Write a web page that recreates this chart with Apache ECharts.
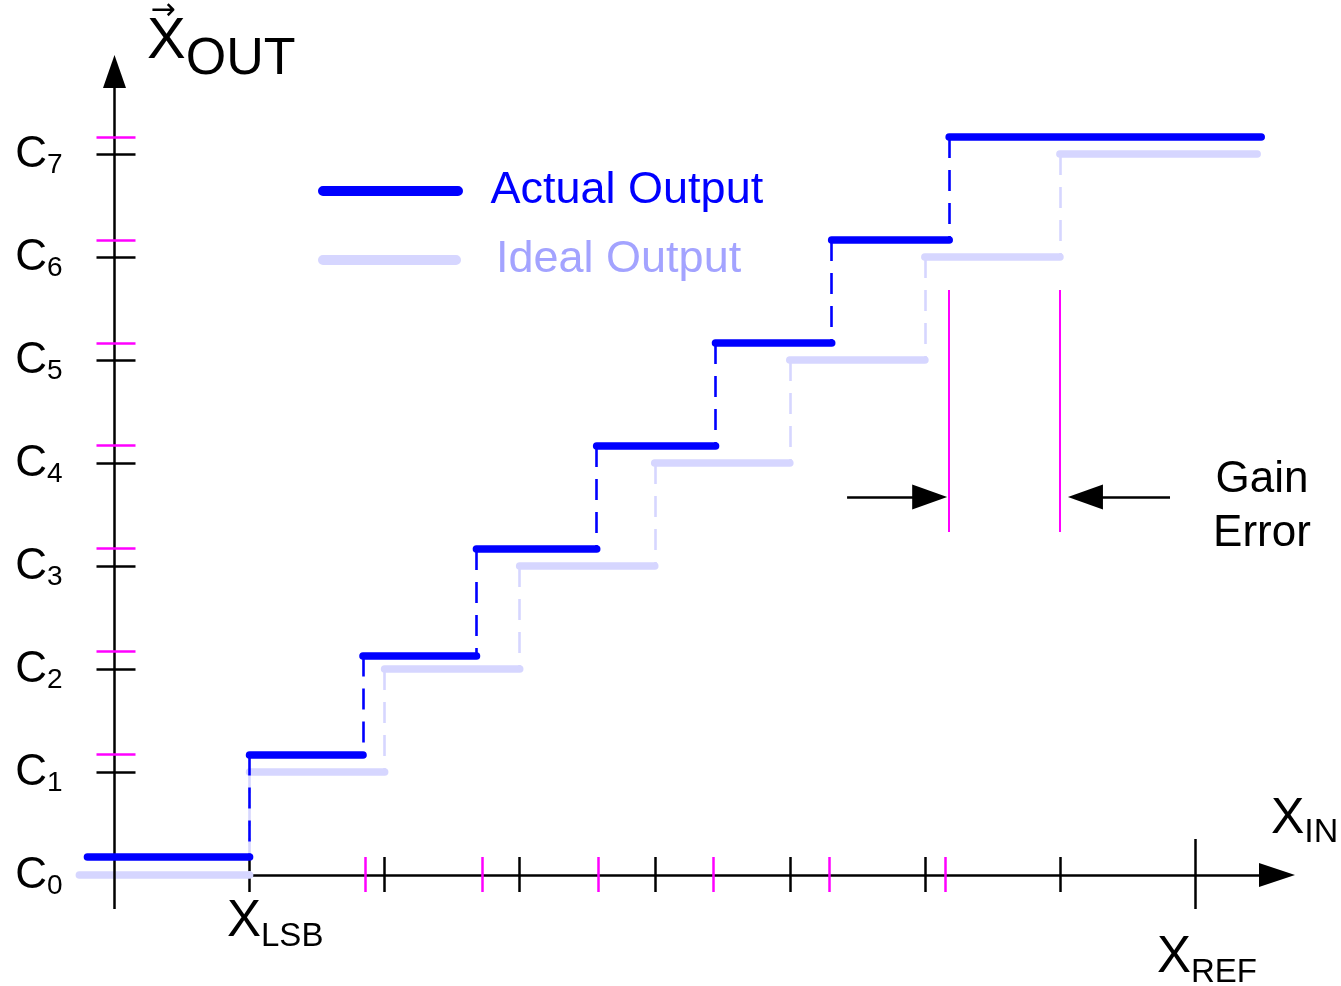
<!DOCTYPE html>
<html><head><meta charset="utf-8">
<script src="https://cdn.jsdelivr.net/npm/echarts@6/dist/echarts.min.js"></script>
<style>html,body{margin:0;padding:0;background:#fff}#c{width:1341px;height:986px}</style>
</head><body><div id="c"></div>
<script>
// ---------- data ----------
const codeSubscripts = ['0','1','2','3','4','5','6','7'];          // C0..C7 tick labels
const idealLevels = [0,1,2,3,4,5,6,7];
const idealTransitions = [1,2,3,4,5,6,7];
const idealRange = [-0.26, 8.46];
const actualLevels = [0.175,1.17,2.13,3.165,4.165,5.165,6.165,7.165];
const actualTransitions = [1.0,1.84,2.68,3.57,4.45,5.31,6.18];
const actualRange = [-0.2, 8.49];
const xTicksIdeal = [1,2,3,4,5,6,7];
const xRef = 8;
const xTicksActual = [1.86,2.72,3.58,4.43,5.29,6.15];
const yTicksIdeal = [1,2,3,4,5,6,7];
const yTicksActual = [1.17,2.17,3.17,4.17,5.16,6.16,7.16];
const gainErrorX = [6.18, 7.0];
const gainErrorSpan = [3.33, 5.68];
const gainArrowY = 3.67;
const gainArrowStart = [5.424, 7.815];

// ---------- layout ----------
const GRID = {left:114.5, top:154, width:1080.5, height:721};
const PX_X = GRID.width/8, PX_Y = GRID.height/7;
const FONT = '"Liberation Sans", Arial, sans-serif';
const BLUE = '#0000ff', LIGHT = '#d6d6ff', LIGHT_TXT = '#a3a3ff', MAG = '#ff00ff';
const STEP_W = 7.6;

function stepSegments(levels, trans, range){
  return levels.map((lv,i)=>[[i===0?range[0]:trans[i-1], lv],[i===levels.length-1?range[1]:trans[i], lv]]);
}
function risers(levels, trans){ return trans.map((t,i)=>[[t,levels[i+1]],[t,levels[i]]]); }
function vTicks(xs, halfUpPx, halfDownPx){ return xs.map(x=>[[x,-halfDownPx/PX_Y],[x,halfUpPx/PX_Y]]); }
function hTicks(ys, leftPx, rightPx){ return ys.map(y=>[[-leftPx/PX_X,y],[rightPx/PX_X,y]]); }

function lines(name, segs, color, width, z, opt){
  opt = opt || {};
  return Object.assign({
    type:'lines', name:name, coordinateSystem:'cartesian2d', clip:false, silent:true,
    animation:false, polyline:false, z:z,
    lineStyle:{color:color, width:width, opacity:1, type:opt.dash||'solid', cap:opt.cap||'butt'},
    data: segs.map(c=>({coords:c}))
  }, opt.extra||{});
}
function arrowSeries(name, from, tip, headW, headL, z){
  const dxp = (tip[0]-from[0])*PX_X, dyp = (tip[1]-from[1])*PX_Y;
  const len = Math.hypot(dxp, dyp);
  const k = (len - headL/2)/len;
  const end = [from[0]+(tip[0]-from[0])*k, from[1]+(tip[1]-from[1])*k];
  return lines(name, [[from, end]], '#000', 2.5, z,
    {extra:{symbol:['none','triangle'], symbolSize:[0,[headW,headL]]}});
}

const series = [
  arrowSeries('x-axis', [0,0], [(1295-GRID.left)/PX_X, 0], 24, 36, 2),
  lines('x ticks', vTicks(xTicksIdeal, 18, 17), '#000', 2.5, 2),
  lines('x ref tick', vTicks([xRef], 36, 34), '#000', 2.5, 2),
  lines('x ticks actual', vTicks(xTicksActual, 18, 17), MAG, 2.5, 2),
  lines('Ideal Output', stepSegments(idealLevels, idealTransitions, idealRange), LIGHT, STEP_W, 3, {cap:'round'}),
  lines('Ideal risers', risers(idealLevels, idealTransitions), LIGHT, 2.6, 3, {dash:[21,12]}),
  arrowSeries('y-axis', [0,-34/PX_Y], [0,(875-55)/PX_Y], 23, 33, 4),
  lines('y ticks', hTicks(yTicksIdeal, 18, 21), '#000', 2.5, 4),
  lines('y ticks actual', hTicks(yTicksActual, 18, 21), MAG, 2.5, 4),
  lines('Actual risers', risers(actualLevels, actualTransitions), BLUE, 2.6, 5, {dash:[21,12]}),
  lines('Actual Output', stepSegments(actualLevels, actualTransitions, actualRange), BLUE, STEP_W, 5, {cap:'round'}),
  lines('gain error', gainErrorX.map(x=>[[x,gainErrorSpan[0]],[x,gainErrorSpan[1]]]), MAG, 2, 6),
  arrowSeries('gain arrow 1', [gainArrowStart[0],gainArrowY], [gainErrorX[0]-2/PX_X, gainArrowY], 25, 35, 6),
  arrowSeries('gain arrow 2', [gainArrowStart[1],gainArrowY], [gainErrorX[1]+8/PX_X, gainArrowY], 25, 35, 6)
];

const roundIcon = 'path://M4,0H139A4,4,0,0,1,139,8H4A4,4,0,0,1,4,0Z';
function subRich(F, f, lift){
  return {m:{fontSize:F, verticalAlign:'bottom', padding:[0,0,lift,0], fontFamily:FONT, fill:'#000'},
          s:{fontSize:f, verticalAlign:'bottom', fontFamily:FONT, fill:'#000'}};
}

const option = {
  backgroundColor:'#fff',
  animation:false,
  grid:{left:GRID.left, top:GRID.top, width:GRID.width, height:GRID.height, containLabel:false},
  xAxis:{type:'value', min:0, max:8, show:false},
  yAxis:{type:'value', min:0, max:7, interval:1,
    axisLine:{show:false}, axisTick:{show:false}, splitLine:{show:false},
    axisLabel:{margin:52, formatter:(v)=>'{c|C}{s|'+codeSubscripts[v]+'}',
      rich:{c:{fontSize:44, lineHeight:50, verticalAlign:'bottom', padding:[0,0,2,0], fontFamily:FONT, color:'#000'},
            s:{fontSize:28, verticalAlign:'bottom', fontFamily:FONT, color:'#000'}}}},
  legend:[
    {selectedMode:false, left:318, top:166, padding:0, itemWidth:144, itemHeight:8, icon:roundIcon,
     textStyle:{fontFamily:FONT, fontSize:45, lineHeight:50, padding:[0,0,0,23]},
     data:[{name:'Actual Output', itemStyle:{color:BLUE}, textStyle:{color:BLUE}}]},
    {selectedMode:false, left:318, top:235, padding:0, itemWidth:141, itemHeight:8, icon:roundIcon,
     textStyle:{fontFamily:FONT, fontSize:45, lineHeight:50, padding:[0,0,0,31]},
     data:[{name:'Ideal Output', itemStyle:{color:LIGHT}, textStyle:{color:LIGHT_TXT}}]}
  ],
  graphic:[
    {type:'text', x:147, y:86, silent:true, style:{text:'{m|X}{s|OUT}', align:'left', verticalAlign:'bottom',
      rich:subRich(58, 52, 15)}},
    {type:'text', x:163, y:11, silent:true, style:{text:'\u2192', align:'center', verticalAlign:'middle',
      fontSize:30, fontFamily:'"DejaVu Sans"', fill:'#000'}},
    {type:'text', x:227, y:953, silent:true, style:{text:'{m|X}{s|LSB}', align:'left', verticalAlign:'bottom',
      rich:subRich(51, 33, 5.5)}},
    {type:'text', x:1157, y:989, silent:true, style:{text:'{m|X}{s|REF}', align:'left', verticalAlign:'bottom',
      rich:subRich(51, 33, 5.5)}},
    {type:'text', x:1271, y:850, silent:true, style:{text:'{m|X}{s|IN}', align:'left', verticalAlign:'bottom',
      rich:subRich(50, 34, 5.7)}},
    {type:'text', x:1262, y:507, silent:true, style:{text:'Gain\nError', align:'center', verticalAlign:'middle',
      fontSize:44, lineHeight:54, fontFamily:FONT, fill:'#000'}}
  ],
  series: series
};
const chart = echarts.init(document.getElementById('c'));
chart.setOption(option);
</script></body></html>
